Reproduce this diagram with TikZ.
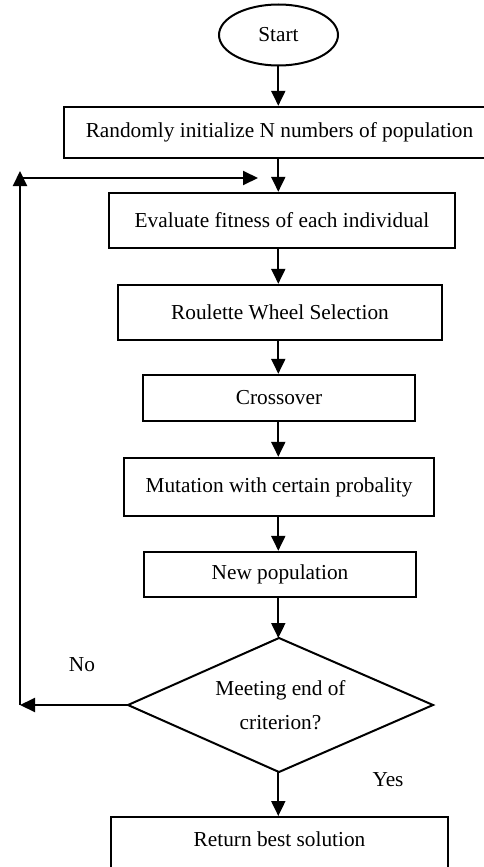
\documentclass[tikz,border=0pt]{standalone}
\usepackage{fontspec}
\setmainfont{Liberation Serif}
\usetikzlibrary{shapes.geometric,arrows.meta}
\begin{document}
\begin{tikzpicture}[x=1pt,y=-1pt,
  every node/.style={font=\fontsize{21.3}{34}\selectfont, inner sep=0pt},
  box/.style={draw, line width=2.4pt, rectangle},
  arr/.style={line width=2pt, -{Triangle[length=15pt,width=14pt]}},
  ln/.style={line width=2pt}]
\clip (0,0) rectangle (484,867);
\node[draw, ellipse, line width=2pt, minimum width=119pt, minimum height=61pt] (start) at (278.5,35) {Start};
\node[box, minimum width=431pt, minimum height=51pt] (rand) at (279.5,132.5) {Randomly initialize N numbers of population};
\node[box, minimum width=346pt, minimum height=55pt] (eval) at (282,220.5) {Evaluate fitness of each individual};
\node[box, minimum width=324pt, minimum height=55pt] (roul) at (280,312.5) {Roulette Wheel Selection};
\node[box, minimum width=272pt, minimum height=46pt] (cross) at (279,398) {Crossover};
\node[box, minimum width=310pt, minimum height=58pt] (mut) at (279,487) {Mutation with certain probality};
\node[box, minimum width=272pt, minimum height=45pt] (newp) at (280,574.5) {New population};
\coordinate (dtop) at (279,638);
\coordinate (dleft) at (128,705);
\coordinate (dright) at (433,705);
\coordinate (dbot) at (279,772);
\draw[ln, line join=miter] (dtop) -- (dright) -- (dbot) -- (dleft) -- cycle;
\node[align=center] (dec) at (280.5,705) {Meeting end of\\criterion?};
\node[box, minimum width=337pt, minimum height=64pt, anchor=north] (ret) at (279.5,816) {};
\node (rettxt) at (279.5,839) {Return best solution};
\node (no) at (82,665) {No};
\node (yes) at (388,780) {Yes};
\coordinate (ax) at (278.3,0);
\coordinate (fbtop) at (20,171);
\coordinate (fbl) at (20,178);
\coordinate (fbr) at (258,178);
\draw[arr] (start.south -| ax) -- (rand.north -| ax);
\draw[arr] (rand.south -| ax) -- (eval.north -| ax);
\draw[arr] (eval.south -| ax) -- (roul.north -| ax);
\draw[arr] (roul.south -| ax) -- (cross.north -| ax);
\draw[arr] (cross.south -| ax) -- (mut.north -| ax);
\draw[arr] (mut.south -| ax) -- (newp.north -| ax);
\draw[arr] (newp.south -| ax) -- (dtop -| ax);
\draw[arr] (dbot -| ax) -- (ret.north -| ax);
\draw[arr] (dleft) -- (dleft -| fbl);
\draw[arr] (dleft -| fbl) -- (fbtop);
\draw[arr] (fbl) -- (fbr);
\end{tikzpicture}
\end{document}
